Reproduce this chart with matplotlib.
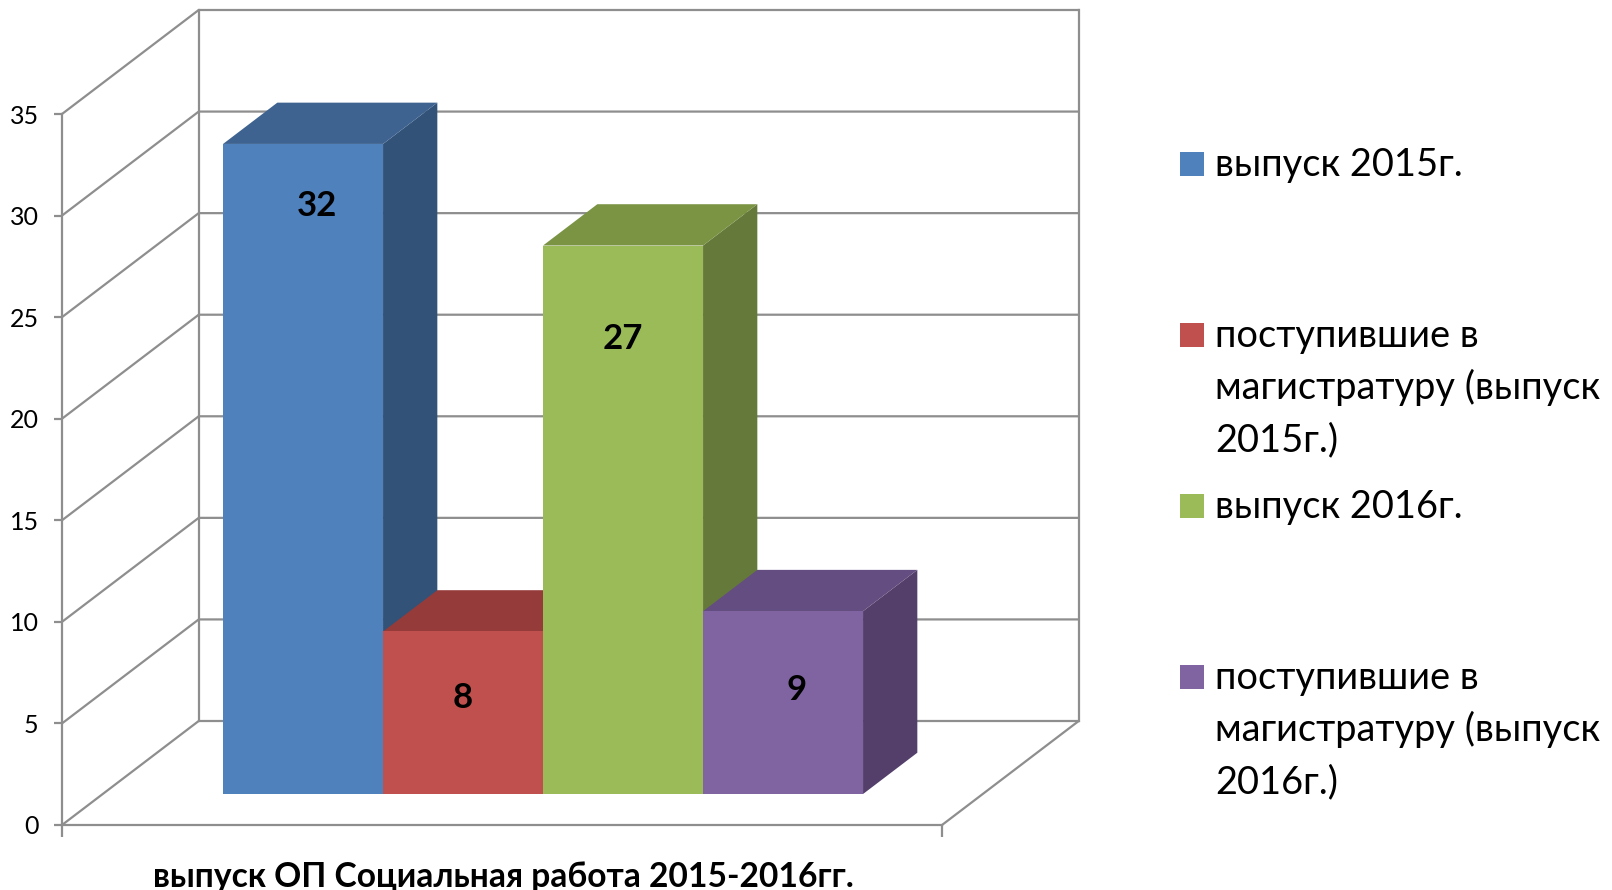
import matplotlib
matplotlib.use("Agg")
import matplotlib.pyplot as plt
from matplotlib.patches import Polygon, Rectangle

plt.rcParams['font.family'] = ['Lato', 'Open Sans', 'DejaVu Sans']

# data
values = [32, 8, 27, 9]
legend_labels = ["выпуск 2015г.",
                 "поступившие в\nмагистратуру (выпуск\n2015г.)",
                 "выпуск 2016г.",
                 "поступившие в\nмагистратуру (выпуск\n2016г.)"]
y_ticks = [0, 5, 10, 15, 20, 25, 30, 35]
x_title = "выпуск ОП Социальная работа 2015-2016гг."

# colours: front, top, side
front = ["#4f81bd", "#c0504d", "#9bbb59", "#8064a2"]
top = ["#3e6390", "#953b39", "#7a9444", "#644d80"]
side = ["#325277", "#7d3230", "#657a3a", "#533f69"]
grid = "#8e8e8e"
lw = 1.6

W, H = 1612, 890
fig = plt.figure(figsize=(W / 100, H / 100), dpi=100)

# the axes is the front plane of the 3d box
left, right, y_bottom, y_top = 62, 942, 825, 114
ax = fig.add_axes([left / W, 1 - y_bottom / H, (right - left) / W, (y_bottom - y_top) / H])
px_x = 160.0   # one bar width in pixels
px_v = (y_bottom - y_top) / 35.0
x0 = -0.5 - 120.3 / px_x
x1 = x0 + (right - left) / px_x
ax.set_xlim(x0, x1)
ax.set_ylim(0, 35)

# depth of the box in data units
depth_x = 136.7 / px_x
depth_v = 104 / px_v


def proj(x, v, d):
    return x + d * depth_x, v + d * depth_v


# walls
for t in y_ticks:
    xa, va = proj(x0, t, 0)
    xb, vb = proj(x0, t, 1)
    xc, vc = proj(x1, t, 1)
    ax.plot([xa, xb, xc], [va, vb, vc], color=grid, lw=lw, clip_on=False, zorder=1, solid_joinstyle="miter")
xb, vb = proj(x0, 0, 1)
xt, vt = proj(x0, 35, 1)
ax.plot([xb, xt], [vb, vt], color=grid, lw=lw, clip_on=False, zorder=1)
xb, vb = proj(x1, 0, 1)
xt, vt = proj(x1, 35, 1)
ax.plot([xb, xt], [vb, vt], color=grid, lw=lw, clip_on=False, zorder=1)
xa, va = proj(x1, 0, 0)
ax.plot([xa, xb], [va, vb], color=grid, lw=lw, clip_on=False, zorder=1)

# bars, left to right so the later ones cover the earlier sides
d0 = 31 / 104
d1 = d0 + 41.3 / 104
for i in range(len(values)):
    v = values[i]
    l, r = i - 0.5, i + 0.5
    side_pts = [proj(r, 0, d0), proj(r, v, d0), proj(r, v, d1), proj(r, 0, d1)]
    top_pts = [proj(l, v, d0), proj(r, v, d0), proj(r, v, d1), proj(l, v, d1)]
    front_pts = [proj(l, 0, d0), proj(r, 0, d0), proj(r, v, d0), proj(l, v, d0)]
    ax.add_patch(Polygon(side_pts, closed=True, fc=side[i], ec="none", clip_on=False, zorder=2))
    ax.add_patch(Polygon(top_pts, closed=True, fc=top[i], ec="none", clip_on=False, zorder=2))
    ax.add_patch(Polygon(front_pts, closed=True, fc=front[i], ec="none", clip_on=False, zorder=2))

# value labels, offsets in pixels from the top middle of the front face
label_dx = [14, 0, 0, 14]
label_dy = [-62, -67, -93, -79]
for i in range(len(values)):
    xp, vp = proj(i, values[i], d0)
    ax.annotate(str(values[i]), (xp, vp), xytext=(label_dx[i] * 0.72, label_dy[i] * 0.72),
                textcoords="offset points", ha="center", va="center",
                fontsize=25, fontweight="bold", color="black", zorder=3)

# axes
for s in ["top", "right"]:
    ax.spines[s].set_visible(False)
for s in ["left", "bottom"]:
    ax.spines[s].set_color(grid)
    ax.spines[s].set_linewidth(lw)
ax.patch.set_alpha(0)
ax.set_yticks(y_ticks)
ax.set_xticks([x0, x1])
ax.set_xticklabels([])
ax.tick_params(axis="y", length=5.8, width=lw, color=grid, labelsize=18, pad=11)
ax.tick_params(axis="x", length=8.6, width=lw, color=grid)

fig.text(503 / W, 1 - 877 / H, x_title, ha="center", va="center", fontsize=24.2, fontweight="bold")

# legend, equal slots, lines placed one by one
leg_y = [164, 335, 506, 677]
line_pitch = 52
for i in range(len(legend_labels)):
    fig.add_artist(Rectangle((1180 / W, 1 - (leg_y[i] + 12) / H), 24 / W, 24 / H, fc=front[i], ec="none",
                             transform=fig.transFigure))
    lines = legend_labels[i].split("\n")
    for j in range(len(lines)):
        fig.text(1215 / W, 1 - (leg_y[i] + 12 + j * line_pitch) / H, lines[j], ha="left", va="baseline",
                 fontsize=27.4, color="black")

fig.savefig("out.png", dpi=100)
